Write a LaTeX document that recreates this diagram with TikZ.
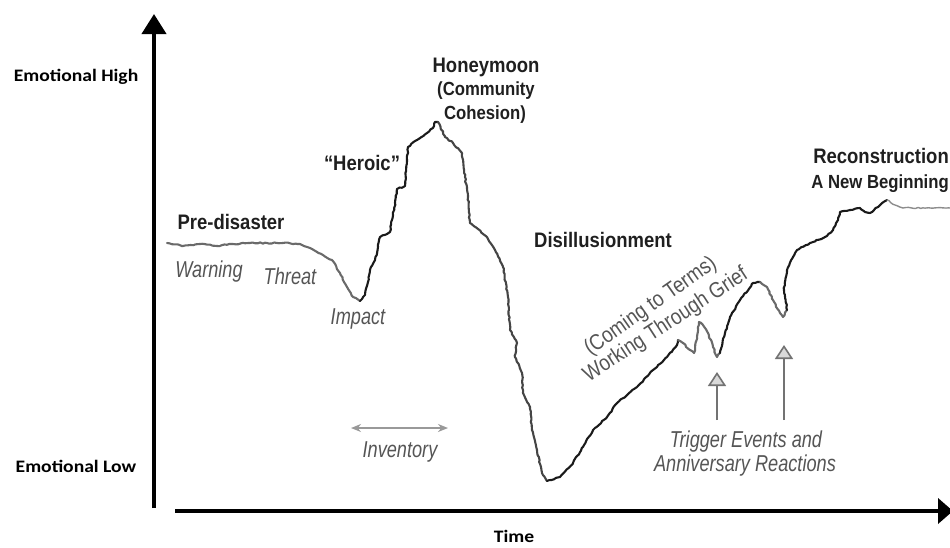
\documentclass[tikz,border=0pt]{standalone}
\usepackage{fontspec}
\setmainfont{Liberation Sans}
\newfontfamily\bnarrow[FakeStretch=0.88,Ligatures=TeX]{Liberation Sans}
\newfontfamily\inarrow[FakeStretch=0.79,Ligatures=TeX]{Liberation Sans}
\newfontfamily\rnarrow[FakeStretch=0.86,Ligatures=TeX]{Liberation Sans}
\newfontfamily\axfont[FakeStretch=1.12,Ligatures=TeX]{Carlito}
\usetikzlibrary{arrows.meta,decorations.pathmorphing}
\definecolor{curvedark}{HTML}{1A1A1A}
\definecolor{curvemid}{HTML}{454545}
\definecolor{curvelight}{HTML}{6A6A6A}
\definecolor{curvepale}{HTML}{8C8C8C}
\definecolor{lblgray}{HTML}{555555}
\pgfmathsetseed{7}
\tikzset{
  yaxisline/.style={line width=4pt,-{Triangle[length=20pt,width=24pt]}},
  xaxisline/.style={line width=4pt,-{Triangle[length=15pt,width=25pt]}},
  curve/.style={line width=2.1pt,line join=round,line cap=round,decorate,
    decoration={random steps,segment length=2.5pt,amplitude=0.6pt}},
  axlbl/.style={font={\axfont\bfseries\fontsize{17.5}{20}\selectfont},text=black,inner sep=0pt,anchor=base},
  boldlbl/.style={font={\bnarrow\bfseries\fontsize{21}{24}\selectfont},text=black!88,inner sep=0pt,anchor=base},
  boldsub/.style={font={\bnarrow\bfseries\fontsize{19}{22}\selectfont},text=black!88,inner sep=0pt,anchor=base},
  itlbl/.style={font={\inarrow\itshape\fontsize{23}{26}\selectfont},text=lblgray,inner sep=0pt,anchor=base},
  rotlbl/.style={font={\rnarrow\fontsize{22}{25}\selectfont},text=lblgray,inner sep=0pt,anchor=base},
  trigarrow/.style={line width=2.6pt,draw=black!55,-{Triangle[open,length=14pt,width=18pt,line width=1.6pt,fill=black!15]}},
  invarrow/.style={line width=2pt,draw=black!40,{Stealth[length=10pt,width=8pt]}-{Stealth[length=10pt,width=8pt]}}
}
\begin{document}
\begin{tikzpicture}[x=1pt,y=-1pt]
\useasboundingbox (0,0) rectangle (950,547);
% axes
\coordinate (ybot) at (154,508);
\coordinate (ytop) at (154,14);
\coordinate (xleft) at (175,511);
\coordinate (xright) at (953,511);
\draw[yaxisline] (ybot) -- (ytop);
\draw[xaxisline] (xleft) -- (xright);
\node[axlbl] (high) at (76,81) {Emotional High};
\node[axlbl] (low) at (76,472) {Emotional Low};
\node[axlbl] (time) at (514,542) {Time};
% curve
\draw[curve,draw=curvelight] plot coordinates {(167,243) (183,246) (200,244) (217,246) (233,244) (250,243) (267,243) (283,243) (300,244) (310,248) (323,255) (332,260) (340,273) (347,287) (353,297) (360,301)};
\draw[curve,draw=curvedark] plot coordinates {(360,301) (365,295) (368,282) (370,270) (375,260) (378,247) (380,237) (387,234) (390,232) (393,215) (395,203) (397,189) (405,186) (407,160) (408,147) (417,140) (427,133) (433,128) (435,122) (438,122)};
\draw[curve,draw=curvemid] plot coordinates {(438,122) (445,137) (453,143) (462,153) (465,177) (468,197) (470,223) (487,237) (495,250) (503,267) (508,297) (510,330) (517,343) (515,357) (522,373) (523,393) (530,407) (532,430) (537,450) (542,473) (547,481)};
\draw[curve,draw=curvedark] plot coordinates {(547,481) (560,477) (573,463) (583,447) (593,430) (607,417) (617,403) (637,387) (653,370) (667,357) (677,345) (678,340)};
\draw[curve,draw=curvelight] plot coordinates {(678,340) (683,343) (690,350) (694,353) (697,337) (699,322) (703,325) (708,333) (713,347) (717,357) (720,353)};
\draw[curve,draw=curvedark] plot coordinates {(720,353) (725,333) (730,317) (740,300) (753,283) (760,282)};
\draw[curve,draw=curvelight] plot coordinates {(760,282) (767,287) (773,300) (780,313) (783,317) (787,310)};
\draw[curve,draw=curvedark] plot coordinates {(787,310) (784,290) (787,270) (793,257) (797,250) (810,243) (825,237) (833,230) (838,220) (840,212) (850,210) (860,208) (865,212) (870,213) (880,205) (887,200)};
\draw[curve,draw=curvepale,line width=1.4pt] plot coordinates {(887,200) (895,205) (903,208) (950,208)};
% bold labels
\node[boldlbl] (pre) at (231,229) {Pre-disaster};
\node[boldlbl] (heroic) at (362,170) {“Heroic”};
\node[boldlbl] (honey) at (486,72) {Honeymoon};
\node[boldsub] (comm) at (486,95) {(Community};
\node[boldsub] (cohes) at (485,119) {Cohesion)};
\node[boldlbl,anchor=base east] (recon) at (949,163) {Reconstruction};
\node[boldsub,anchor=base east] (newbeg) at (949,188) {A New Beginning};
\node[boldlbl] (disill) at (603,247) {Disillusionment};
% italic labels
\node[itlbl] (warn) at (209,277) {Warning};
\node[itlbl] (threat) at (290,284) {Threat};
\node[itlbl] (impact) at (358,324) {Impact};
\node[itlbl] (invent) at (400,457) {Inventory};
\node[itlbl] (trig1) at (746,447) {Trigger Events and};
\node[itlbl] (trig2) at (745,471) {Anniversary Reactions};
% rotated labels
\node[rotlbl,rotate=35] (coming) at (654,311) {(Coming to Terms)};
\node[rotlbl,rotate=33] (working) at (669,330) {Working Through Grief};
% inventory arrow
\coordinate (invl) at (351,428);
\coordinate (invr) at (448,428);
\draw[invarrow] (invl) -- (invr);
% trigger arrows
\coordinate (ta1) at (717,420);
\coordinate (tb1) at (717,372);
\coordinate (ta2) at (784,420);
\coordinate (tb2) at (784,345);
\draw[trigarrow] (ta1) -- (tb1);
\draw[trigarrow] (ta2) -- (tb2);
\end{tikzpicture}
\end{document}
